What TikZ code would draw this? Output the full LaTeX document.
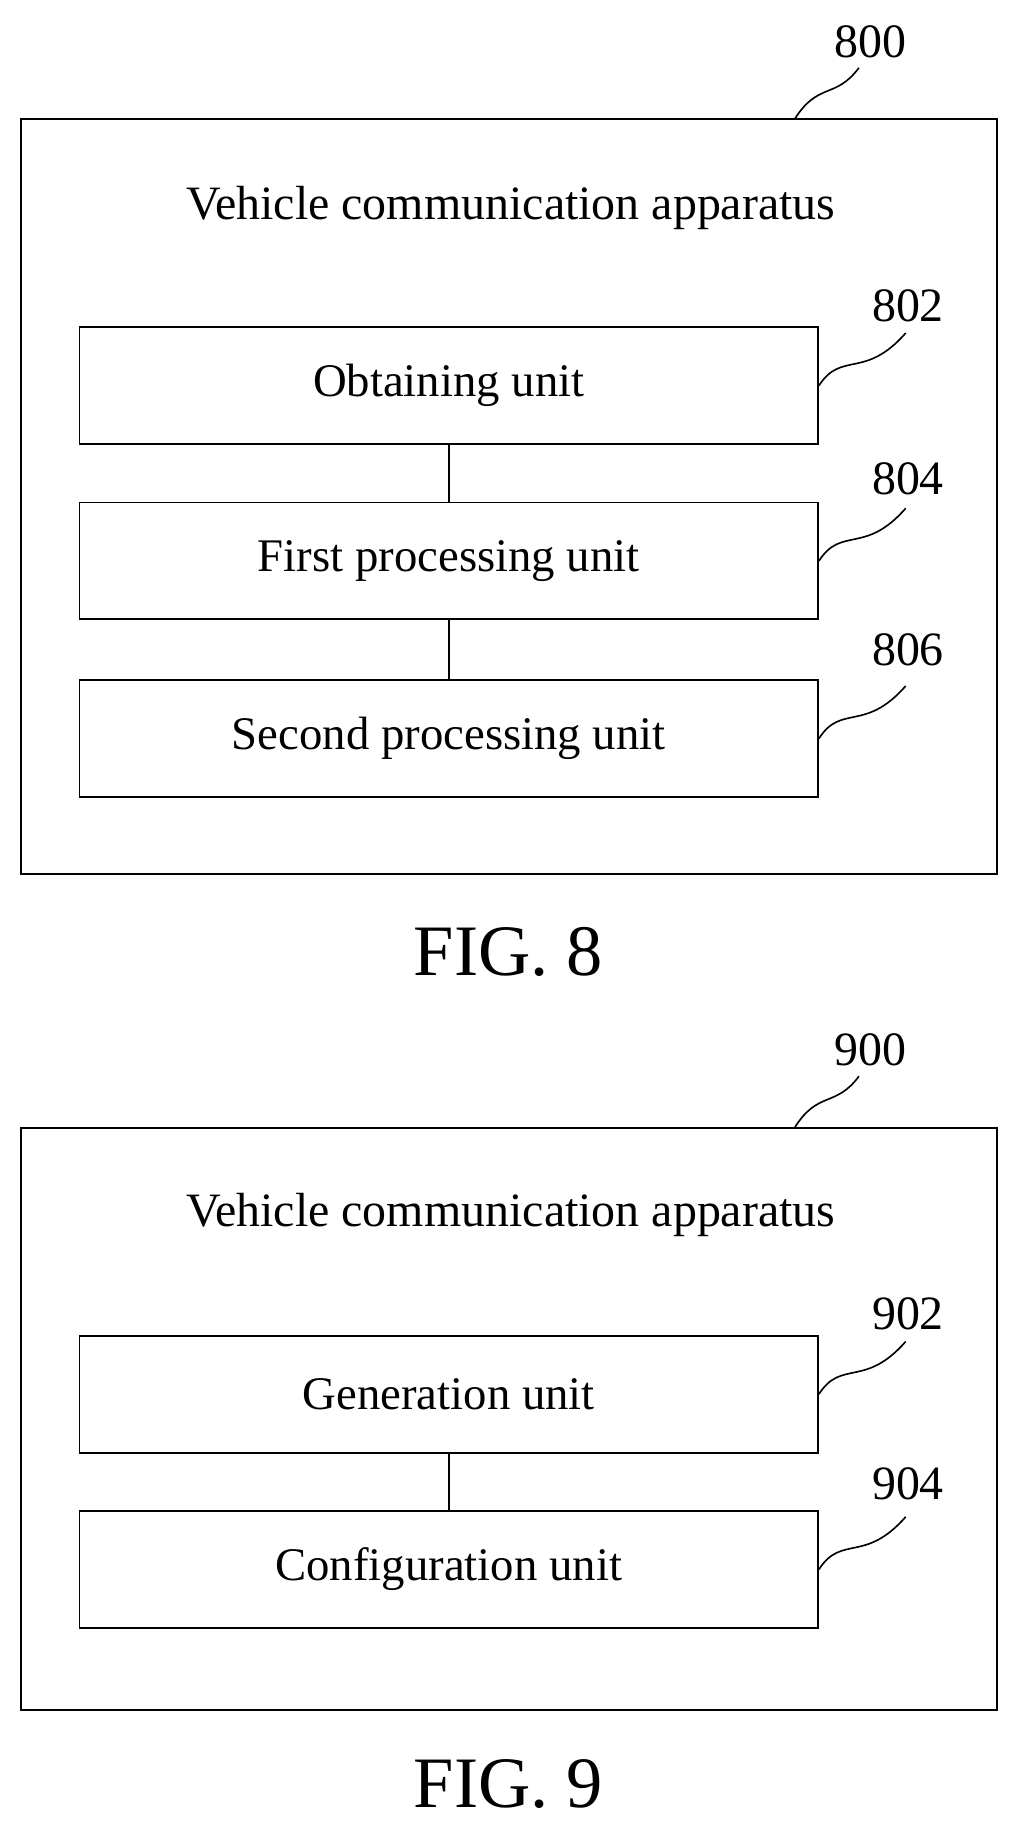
\documentclass[tikz,border=0pt]{standalone}
\usepackage{fontspec}
\setmainfont{Liberation Serif}
\begin{document}
\begin{tikzpicture}[x=1pt,y=-1pt,
  box/.style={draw,line width=1.6pt},
  unit/.style={draw,line width=1.6pt,minimum width=632pt,minimum height=100pt,inner sep=0pt,font=\fontsize{40}{46}\selectfont},
  txt/.style={font=\fontsize{41}{48}\selectfont,inner sep=0pt},
  fig/.style={font=\fontsize{62}{70}\selectfont,inner sep=0pt},
  sq/.style={line width=1.4pt}]
\useasboundingbox (0,0) rectangle (870,1566);
% FIG 8
\draw[box] (18,102) rectangle (853,748);
\node[txt] (t8) at (437,178) {Vehicle communication apparatus};
\node[txt] (n800) at (745,36) {800};
\coordinate (s800) at (680,102);
\draw[sq] (s800) .. controls (700,70) and (715,85) .. (735,58);
\node[unit] (u802) at (384,330) {Obtaining unit};
\node[unit] (u804) at (384,480) {First processing unit};
\node[unit] (u806) at (384,632) {Second processing unit};
\draw[line width=1.4pt] (u802.south) -- (u804.north);
\draw[line width=1.4pt] (u804.south) -- (u806.north);
\node[txt] (n802) at (777,262) {802};
\node[txt] (n804) at (777,410) {804};
\node[txt] (n806) at (777,556) {806};
\foreach \u/\y in {802/330,804/480,806/632}{
  \draw[sq] (u\u.east) .. controls (720,\y-30) and (740,\y-5) .. (775,\y-45);
}
\node[fig] (f8) at (435,815) {FIG. 8};
% FIG 9
\draw[box] (18,965) rectangle (853,1463);
\node[txt] (t9) at (437,1040) {Vehicle communication apparatus};
\node[txt] (n900) at (745,898) {900};
\draw[sq] (680,965) .. controls (700,933) and (715,948) .. (735,921);
\node[unit] (u902) at (384,1193) {Generation unit};
\node[unit] (u904) at (384,1343) {Configuration unit};
\draw[line width=1.4pt] (u902.south) -- (u904.north);
\node[txt] (n902) at (777,1124) {902};
\node[txt] (n904) at (777,1270) {904};
\foreach \u/\y in {902/1193,904/1343}{
  \draw[sq] (u\u.east) .. controls (720,\y-30) and (740,\y-5) .. (775,\y-45);
}
\node[fig] (f9) at (435,1527) {FIG. 9};
\end{tikzpicture}
\end{document}
